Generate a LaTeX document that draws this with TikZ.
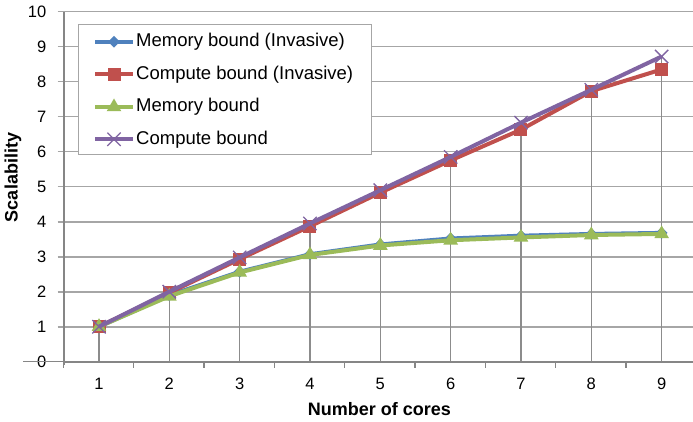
\documentclass[tikz,border=0pt]{standalone}
\usepackage{fontspec}
\setmainfont{Liberation Sans}
\usetikzlibrary{shapes.geometric,shapes.misc}
\definecolor{sblue}{HTML}{4F81BD}
\definecolor{sred}{HTML}{C0504D}
\definecolor{sgreen}{HTML}{9BBB59}
\definecolor{spurple}{HTML}{8064A2}
\definecolor{gridc}{HTML}{A6A6A6}
\definecolor{axisc}{HTML}{868686}
\definecolor{dropc}{HTML}{8C8C8C}
\begin{document}
\begin{tikzpicture}[x=1pt,y=-1pt,
  gridline/.style={draw=gridc,line width=1.6pt},
  axisline/.style={draw=axisc,line width=2pt},
  dropline/.style={draw=dropc,line width=1.3pt},
  ticklab/.style={font=\fontsize{16.5}{18}\selectfont,inner sep=0pt},
  axtitle/.style={font=\fontsize{18}{20}\selectfont\bfseries,inner sep=0pt},
  legtext/.style={font=\fontsize{18.5}{20}\selectfont,inner sep=0pt,anchor=west},
  serline/.style={line width=4pt,line join=round},
  mkdiamond/.style={diamond,fill=sblue,inner sep=0pt,minimum size=12pt},
  mksquare/.style={rectangle,fill=sred,inner sep=0pt,minimum size=13pt},
  mktri/.style={regular polygon,regular polygon sides=3,fill=sgreen,inner sep=0pt,minimum size=17pt},
  mkcross/.style={cross out,draw=spurple,line width=1.3pt,inner sep=0pt,minimum size=12pt}]
\useasboundingbox[fill=white] (0,0) rectangle (693,422);

% horizontal gridlines and y ticks
\foreach \v in {1,...,10}{
  \draw[gridline] (57.7,{361.7-35*\v}) -- (693,{361.7-35*\v});
}
% y tick labels
\foreach \v in {0,...,10}{
  \node[ticklab,anchor=east] (yl\v) at (46.5,{361.7-35*\v}) {\v};
}
% x tick labels
\foreach \n in {1,...,9}{
  \node[ticklab] (xl\n) at ({99+70.33*(\n-1)},384) {\n};
}
% x ticks
\foreach \k in {0,...,8}{
  \draw[axisline,line width=1.5pt] ({63.3+70.33*\k},361.7) -- ({63.3+70.33*\k},368);
}

\begin{scope}[shift={(28.67,361.7)},x=70.33pt,y=35pt]
  % drop lines
  \foreach \n/\m in {1/1,2/2.0,3/2.98,4/3.95,5/4.9,6/5.85,7/6.83,8/7.77,9/8.72}{
    \draw[dropline] (\n,0) -- (\n,\m);
  }
  % axes
  \draw[axisline] (0.5,0) -- (9.5,0);
  \draw[axisline] (0.5,-0.1) -- (0.5,10);
  \draw[axisline,line width=1.5pt] (-0.08,0) -- (0.5,0);
  % Memory bound (Invasive)
  \draw[serline,sblue] plot coordinates {(1,1) (2,1.9) (3,2.57) (4,3.07) (5,3.35) (6,3.52) (7,3.6) (8,3.65) (9,3.68)};
  \foreach \n/\m in {1/1,2/1.9,3/2.57,4/3.07,5/3.35,6/3.52,7/3.6,8/3.65,9/3.68}{
    \node[mkdiamond] (b\n) at (\n,\m) {};
  }
  % Compute bound (Invasive)
  \draw[serline,sred] plot coordinates {(1,1) (2,1.97) (3,2.93) (4,3.87) (5,4.83) (6,5.75) (7,6.63) (8,7.73) (9,8.35)};
  \foreach \n/\m in {1/1,2/1.97,3/2.93,4/3.87,5/4.83,6/5.75,7/6.63,8/7.73,9/8.35}{
    \node[mksquare] (r\n) at (\n,\m) {};
  }
  % Memory bound
  \draw[serline,sgreen] plot coordinates {(1,1) (2,1.87) (3,2.55) (4,3.05) (5,3.32) (6,3.47) (7,3.55) (8,3.62) (9,3.65)};
  \foreach \n/\m in {1/1,2/1.87,3/2.55,4/3.05,5/3.32,6/3.47,7/3.55,8/3.62,9/3.65}{
    \node[mktri] (g\n) at (\n,\m) {};
  }
  % Compute bound
  \draw[serline,spurple] plot coordinates {(1,1) (2,2.0) (3,2.98) (4,3.95) (5,4.9) (6,5.85) (7,6.83) (8,7.77) (9,8.72)};
  \foreach \n/\m in {1/1,2/2.0,3/2.98,4/3.95,5/4.9,6/5.85,7/6.83,8/7.77,9/8.72}{
    \node[mkcross] (p\n) at (\n,\m) {};
  }
\end{scope}

% legend
\draw[fill=white,draw=gridc,line width=1pt] (78.7,25) rectangle (371.7,155);
\coordinate (la1) at (95,41.7);  \coordinate (lb1) at (133,41.7);
\coordinate (la2) at (95,74.5);  \coordinate (lb2) at (133,74.5);
\coordinate (la3) at (95,107);   \coordinate (lb3) at (133,107);
\coordinate (la4) at (95,139.3); \coordinate (lb4) at (133,139.3);
\draw[serline,sblue] (la1) -- (lb1);
\node[mkdiamond] (lm1) at (114,41.7) {};
\node[legtext] (lt1) at (136,41.7) {Memory bound (Invasive)};
\draw[serline,sred] (la2) -- (lb2);
\node[mksquare] (lm2) at (114,74.5) {};
\node[legtext] (lt2) at (136,74.5) {Compute bound (Invasive)};
\draw[serline,sgreen] (la3) -- (lb3);
\node[mktri] (lm3) at (114,107) {};
\node[legtext] (lt3) at (136,107) {Memory bound};
\draw[serline,spurple] (la4) -- (lb4);
\node[mkcross] (lm4) at (114,139.3) {};
\node[legtext] (lt4) at (136,139.3) {Compute bound};

% axis titles
\node[axtitle] (xt) at (379.5,409) {Number of cores};
\node[axtitle,rotate=90] (yt) at (13,177.5) {Scalability};
\end{tikzpicture}
\end{document}
